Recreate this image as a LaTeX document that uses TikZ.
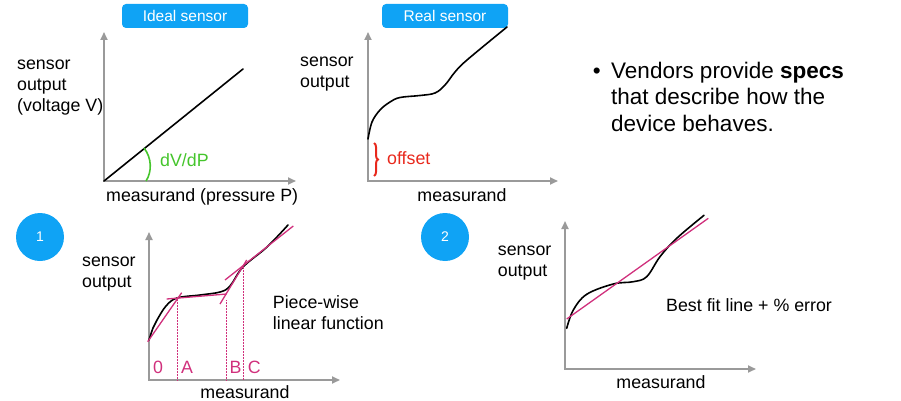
\documentclass[tikz,border=0pt]{standalone}
\usepackage{fontspec}
\setmainfont{Liberation Sans}
\usetikzlibrary{arrows.meta, decorations.pathreplacing}
\definecolor{CBlue}{HTML}{0FA3F5}
\definecolor{CGreen}{HTML}{45C52C}
\definecolor{CRed}{HTML}{E8281C}
\definecolor{CPink}{HTML}{D0307C}
\definecolor{CAxis}{HTML}{9A9A9A}

\begin{document}
\begin{tikzpicture}[x=1pt, y=-1pt,
    axis/.style={CAxis, line width=1.8pt, {Triangle[length=8pt,width=7pt]}-{Triangle[length=8pt,width=7pt]}},
    curve/.style={black, line width=1.6pt, line cap=round},
    fit/.style={CPink, line width=1.3pt},
    guide/.style={CPink, line width=0.5pt, densely dotted},
    tag/.style={fill=CBlue, rounded corners=4pt, minimum width=126pt, minimum height=24pt, text=white, font=\fontsize{15.5}{18}\selectfont},
    badge/.style={circle, fill=CBlue, minimum size=48pt, inner sep=0pt, text=white, font=\fontsize{14}{16}\selectfont},
    lbl/.style={font=\fontsize{17.8}{21}\selectfont, align=left, inner sep=0pt, anchor=base west}]

    \useasboundingbox (0,0) rectangle (901,401);

    % Ideal sensor
    \node[tag] (ideal) at (185,16) {Ideal sensor};
    \draw[axis] (104,32) -- (104,181) -- (296,181);
    \coordinate (o1) at (104,181);
    \coordinate (top1) at (243,69);
    \draw[curve] (o1) -- (top1);
    \draw[CGreen, line width=1.6pt] (144,148) .. controls (152,158) and (152,172) .. (146,181);
    \node[lbl, text=CGreen] (slope) at (160,166) {dV/dP};
    \node[lbl] (yideal) at (17,111.5) {sensor\\output\\(voltage V)};
    \node[lbl] (xideal) at (106,201) {measurand (pressure P)};

    % Real sensor
    \node[tag] (real) at (445,16) {Real sensor};
    \draw[axis] (368,32) -- (368,181) -- (558,181);
    \draw[curve] plot[smooth, tension=0.6] coordinates {(368,139) (372,122) (380,110) (390,102) (400,97.5) (420,95.5) (435,93) (445,85) (455,72) (467,60) (507,27)};
    \draw[CRed, line width=2pt, decorate, decoration={brace, amplitude=4pt}] (374,143) -- (374,176);
    \node[lbl, text=CRed] (offset) at (387,164) {offset};
    \node[lbl] (yreal) at (300,88) {sensor\\output};
    \node[lbl, anchor=base] (xreal) at (462,201) {measurand};

    % Bullet text
    \node[lbl, font=\fontsize{22.5}{26.3}\selectfont, anchor=base east] (dot) at (601,78.5) {•};
    \node[lbl, font=\fontsize{22.5}{26.3}\selectfont] (specs) at (611,131.1) {Vendors provide \textbf{specs}\\that describe how the\\device behaves.};

    % 1: piece-wise linear
    \node[badge] (one) at (40,237) {1};
    \draw[axis] (149,232) -- (149,380) -- (340,380);
    \draw[curve] plot[smooth, tension=0.6] coordinates {(149,340) (153,328) (157,320) (166,306) (177,298) (200,295) (220,292) (230,286) (243,267) (267,247) (288,225)};
    \draw[fit] (147.7,341.7) -- (181.7,292.7);
    \draw[fit] (166.7,299) -- (226.7,294);
    \draw[fit] (220,304) -- (246.7,260);
    \draw[fit] (225,280) -- (293.3,226);
    \draw[guide] (177,297) -- (177,380);
    \draw[guide] (226.7,300) -- (226.7,380);
    \draw[guide] (243.7,265) -- (243.7,380);
    \node[lbl, text=CPink] (p0) at (153,373.3) {0};
    \node[lbl, text=CPink] (pA) at (181,373.3) {A};
    \node[lbl, text=CPink] (pB) at (229.3,373.3) {B};
    \node[lbl, text=CPink] (pC) at (247.7,373.3) {C};
    \node[lbl] (yone) at (82,287) {sensor\\output};
    \node[lbl] (piece) at (272.7,329.3) {Piece-wise\\linear function};
    \node[lbl, anchor=base] (xone) at (245,398.5) {measurand};

    % 2: best fit line
    \node[badge] (two) at (445,237) {2};
    \draw[axis] (565,221) -- (565,369) -- (756,369);
    \draw[curve] plot[smooth, tension=0.6] coordinates {(566.7,328.3) (573.3,310) (586.7,294.3) (613.3,284) (633.3,281.7) (646.7,276.7) (660,256.7) (676.7,238.3) (704,215.3)};
    \draw[fit] (566.7,319) -- (708.3,218.3);
    \node[lbl] (ytwo) at (497.7,276) {sensor\\output};
    \node[lbl] (best) at (666,311.7) {Best fit line + \% error};
    \node[lbl, anchor=base] (xtwo) at (661,388) {measurand};

\end{tikzpicture}
\end{document}
